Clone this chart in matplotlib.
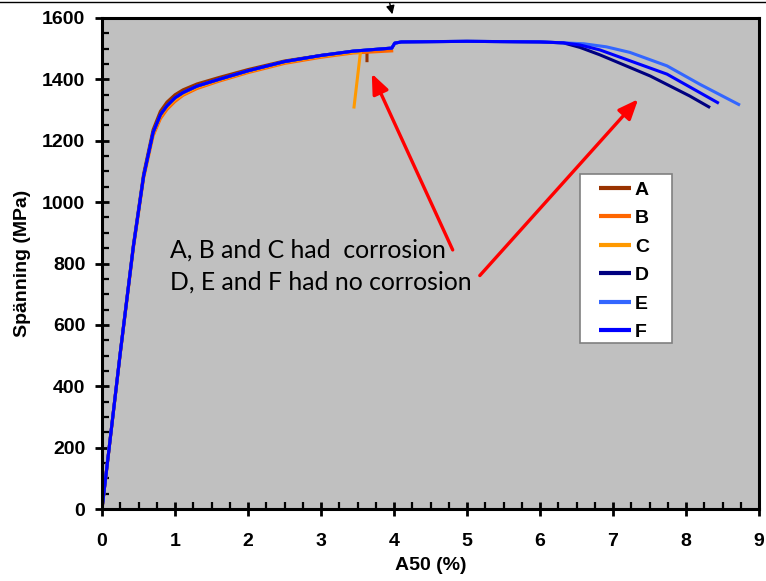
import matplotlib
matplotlib.use('Agg')
import matplotlib.pyplot as plt
from matplotlib.ticker import MultipleLocator
from matplotlib.lines import Line2D
from matplotlib.patches import Rectangle

# Shared elastic + hardening part
base_strain = [0, 0.25, 0.43, 0.57, 0.70, 0.80, 0.89, 1.0, 1.11, 1.3, 1.6, 2.0, 2.5, 3.0, 3.44]
base_stress = [0, 508, 856, 1085, 1227, 1285, 1314, 1340, 1357, 1378, 1400, 1428, 1458, 1478, 1492]

# A, B, C: corroded specimens
a_strain = [0, 0.25, 0.43, 0.57, 0.70, 0.80, 0.89, 1.0, 1.11, 1.3, 1.6, 2.0, 2.5, 3.0, 3.44, 3.63, 3.63]
a_stress = [0, 510, 860, 1092, 1236, 1296, 1326, 1350, 1366, 1385, 1406, 1432, 1460, 1478, 1488, 1490, 1456]
b_strain = [0, 0.25, 0.43, 0.57, 0.70, 0.80, 0.89, 1.0, 1.11, 1.3, 1.6, 2.0, 2.5, 3.0, 3.44, 3.99]
b_stress = [0, 505, 850, 1078, 1216, 1272, 1302, 1328, 1348, 1370, 1394, 1422, 1452, 1472, 1486, 1493]
c_strain = [0, 0.25, 0.43, 0.57, 0.70, 0.80, 0.89, 1.0, 1.11, 1.3, 1.6, 2.0, 2.5, 3.0, 3.44, 3.54, 3.45]
c_stress = [0, 506, 853, 1082, 1222, 1280, 1309, 1334, 1352, 1374, 1397, 1425, 1455, 1475, 1488, 1488, 1305]

# D, E, F: uncorroded specimens
plateau_strain = [3.97, 4.01, 4.1, 5.0, 6.0, 6.32]
plateau_stress = [1502, 1518, 1522, 1524, 1522, 1519]
d_strain = base_strain + plateau_strain + [6.55, 6.82, 7.51, 8.05, 8.33]
d_stress = base_stress + plateau_stress + [1504, 1480, 1411, 1346, 1308]
e_strain = base_strain + plateau_strain + [6.6, 6.91, 7.23, 7.74, 8.19, 8.74]
e_stress = base_stress + plateau_stress + [1516, 1506, 1488, 1444, 1384, 1316]
f_strain = base_strain + plateau_strain + [6.55, 6.82, 7.74, 8.45]
f_stress = base_stress + plateau_stress + [1512, 1496, 1417, 1322]

labels = ['A', 'B', 'C', 'D', 'E', 'F']
colors = ['#993300', '#FF6600', '#FF9900', '#000080', '#3366FF', '#0000FF']
series = [(a_strain, a_stress), (b_strain, b_stress), (c_strain, c_stress),
          (d_strain, d_stress), (e_strain, e_stress), (f_strain, f_stress)]

plt.rcParams['font.family'] = ['Liberation Sans', 'DejaVu Sans']

fig = plt.figure(figsize=(7.66, 5.81), dpi=100)
ax = fig.add_axes([102 / 766, 1 - 509 / 581, 657 / 766, 491 / 581])
ax.set_facecolor('#C0C0C0')

for (x, y), lab, col in zip(series, labels, colors):
    ax.plot(x, y, color=col, linewidth=2.2, label=lab, solid_capstyle='butt')

ax.set_xlim(0, 9)
ax.set_ylim(0, 1600)
ax.xaxis.set_major_locator(MultipleLocator(1))
ax.xaxis.set_minor_locator(MultipleLocator(0.25))
ax.yaxis.set_major_locator(MultipleLocator(200))
ax.yaxis.set_minor_locator(MultipleLocator(50))
ax.tick_params(which='major', direction='inout', length=10, width=2, labelsize=14)
ax.tick_params(axis='x', which='major', pad=12)
ax.tick_params(axis='y', which='major', pad=7)
ax.tick_params(which='minor', direction='in', length=5, width=1.6)
for lab in ax.get_xticklabels() + ax.get_yticklabels():
    lab.set_fontweight('bold')
for sp in ax.spines.values():
    sp.set_linewidth(2.2)

ax.set_xlabel('A50 (%)', fontsize=14, fontweight='bold', labelpad=5)
ax.set_ylabel('Spänning (MPa)', fontsize=14, fontweight='bold', labelpad=8)

# legend box drawn separately (wide white frame like the original)
ax.add_patch(Rectangle((0.7275, 0.338), 0.14, 0.344, transform=ax.transAxes,
                       facecolor='white', edgecolor='#808080', lw=1.2, zorder=4))
leg = ax.legend(loc='upper left', bbox_to_anchor=(0.7565, 0.668), borderaxespad=0,
                frameon=False, prop={'weight': 'bold', 'size': 14}, handlelength=1.65,
                labelspacing=0.56, borderpad=0, handletextpad=0.2)
leg.set_zorder(5)
for line in leg.get_lines():
    line.set_linewidth(3)

# Note and red arrows
ax.text(0.93, 843, 'A, B and C had  corrosion', fontsize=17.8, family='Lato', va='center')
ax.text(0.93, 741, 'D, E and F had no corrosion', fontsize=17.8, family='Lato', va='center')
arrow = dict(arrowstyle='-|>,head_length=1.2,head_width=0.5', color='#FF0000', lw=2.4)
ax.annotate('', xy=(3.68, 1427), xytext=(4.82, 836), arrowprops=arrow)
ax.annotate('', xy=(7.37, 1342), xytext=(5.15, 754), arrowprops=arrow)

# small black arrow above the plot and thin top border
ax.annotate('', xy=(393 / 766, 1 - 17 / 581), xytext=(389 / 766, 1.0),
            xycoords='figure fraction', textcoords='figure fraction',
            arrowprops=dict(arrowstyle='-|>,head_length=0.5,head_width=0.25', color='black', lw=1))
fig.add_artist(Line2D([0, 1], [1 - 1.5 / 581, 1 - 1.5 / 581], color='black', lw=1))

fig.savefig('out.png', dpi=100)
